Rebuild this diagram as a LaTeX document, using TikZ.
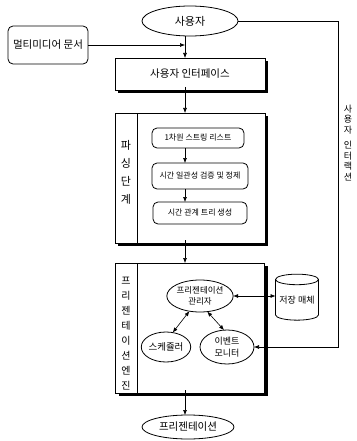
\documentclass[tikz,border=0pt]{standalone}
\usepackage{fontspec}
\setmainfont{Noto Sans CJK KR}
\usetikzlibrary{shapes.geometric,arrows.meta,shadows}
\begin{document}
\begin{tikzpicture}[x=1pt,y=-1pt,
  every node/.style={inner sep=0pt, outer sep=0pt},
  arr/.style={-{Latex[length=5pt,width=4pt]}, line width=0.6pt},
  darr/.style={{Latex[length=5pt,width=4pt]}-{Latex[length=5pt,width=4pt]}, line width=0.6pt},
  mainbox/.style={draw, line width=0.8pt, fill=white, rectangle,
    drop shadow={shadow xshift=3pt, shadow yshift=-3pt, fill=black, opacity=1}},
  rbox/.style={draw, line width=0.8pt, fill=white, rounded corners=5pt, rectangle, font=\fontsize{8}{9}\selectfont},
  ell/.style={draw, line width=0.8pt, ellipse, fill=white, align=center},
  lab/.style={align=center, font=\fontsize{11}{18}\selectfont}
]
\useasboundingbox (0,0) rectangle (356,441);
\coordinate (ax) at (185,0);
\coordinate (rx) at (338,0);

% top
\node[ell, minimum width=96pt, minimum height=30pt, font=\fontsize{11}{12}\selectfont] (user) at (190,21) {사용자};
\node[draw, line width=0.8pt, rounded corners=5pt, minimum width=80pt, minimum height=38pt, font=\fontsize{10.5}{12}\selectfont] (mm) at (48,45) {멀티미디어 문서};
\node[mainbox, minimum width=150pt, minimum height=32pt, font=\fontsize{10.5}{12}\selectfont] (iface) at (190,74) {사용자 인터페이스};

% parsing
\node[mainbox, minimum width=150pt, minimum height=130pt] (parse) at (190,178) {};
\draw[line width=0.8pt] ([xshift=22pt]parse.north west) -- ([xshift=22pt]parse.south west);
\node[lab] (plab) at (126,172) {파\\싱\\단\\계};
\node[rbox, minimum width=92pt, minimum height=20pt] (b1) at (198,138) {1차원 스트링 리스트};
\node[rbox, minimum width=96pt, minimum height=26pt] (b2) at (200,176) {시간 일관성 검증 및 정제};
\node[rbox, minimum width=94pt, minimum height=22pt] (b3) at (200,213) {시간 관계 트리 생성};

% engine
\node[mainbox, minimum width=149pt, minimum height=130pt] (eng) at (190,328) {};
\draw[line width=0.8pt] ([xshift=22pt]eng.north west) -- ([xshift=22pt]eng.south west);
\node[lab, font=\fontsize{10}{15}\selectfont] (elab) at (126,334) {프\\리\\젠\\테\\이\\션\\엔\\진};
\node[ell, minimum width=62pt, minimum height=32pt, font=\fontsize{8.5}{11}\selectfont] (mgr) at (200,296) {프리젠테이션\\관리자};
\node[ell, minimum width=46pt, minimum height=30pt, font=\fontsize{9.5}{11}\selectfont] (sched) at (166,347) {스케쥴러};
\node[ell, minimum width=54pt, minimum height=34pt, font=\fontsize{9}{12}\selectfont] (evt) at (227,347) {이벤트\\모니터};
\node[cylinder, draw, line width=0.8pt, shape border rotate=90, aspect=0.3, minimum width=43pt, minimum height=46pt, font=\fontsize{9}{11}\selectfont] (cyl) at (297,300) {저장 매체};

\node[ell, minimum width=92pt, minimum height=24pt, font=\fontsize{10.5}{12}\selectfont] (pres) at (188,427) {프리젠테이션};

\node[align=center, font=\fontsize{9}{10.5}\selectfont] (ulab) at (348,143) {사\\용\\자\\[5pt]인\\터\\랙\\션};

% connectors
\draw[arr] (user.south -| ax) -- (iface.north -| ax);
\draw[arr] (mm.east) -- (mm.east -| ax);
\draw[arr] ([yshift=3pt]iface.south -| ax) -- (parse.north -| ax);
\draw[arr] (b1.south -| ax) -- (b2.north -| ax);
\draw[arr] (b2.south -| ax) -- (b3.north -| ax);
\draw[arr] ([yshift=3pt]parse.south -| ax) -- (eng.north -| ax);
\draw[arr] ([yshift=3pt]eng.south -| ax) -- (pres.north -| ax);
\draw[darr] (mgr.east) -- (mgr.east -| cyl.west);
\draw[darr] (mgr.235) -- (sched.65);
\draw[darr] (mgr.-65) -- (evt.100);
\draw[arr] (user.east) -- (user.east -| rx) |- (evt.east);
\end{tikzpicture}
\end{document}
